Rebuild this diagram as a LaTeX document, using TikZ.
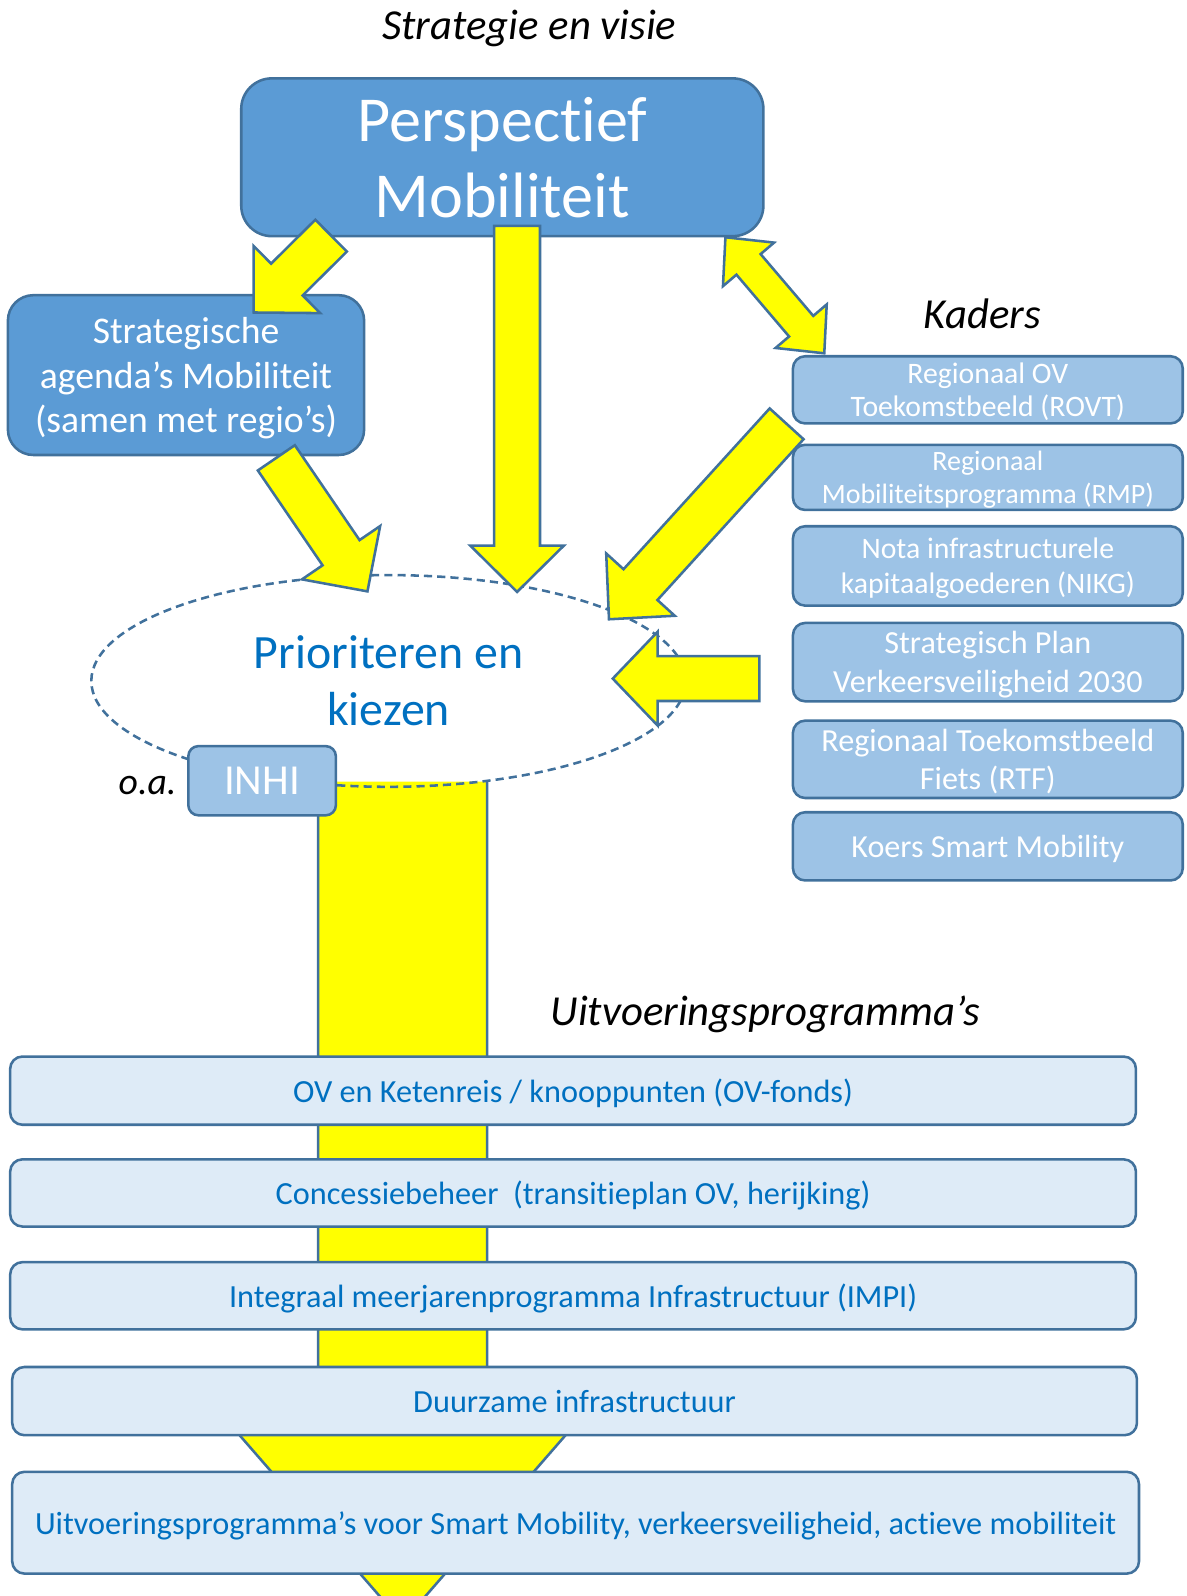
\documentclass[tikz,border=0pt]{standalone}
\usepackage{fontspec}
\setmainfont{Carlito}[Ligatures={NoCommon}]
\usetikzlibrary{calc,shapes.geometric}
\definecolor{darkfill}{HTML}{5B9BD5}
\definecolor{edgec}{HTML}{41719C}
\definecolor{kfill}{HTML}{9DC3E6}
\definecolor{pfill}{HTML}{DEEBF7}
\definecolor{ptext}{HTML}{0070C0}
\definecolor{ayellow}{HTML}{FFFF00}
\tikzset{
  dbox/.style={draw=edgec, fill=darkfill, line width=2.5pt, text=white, align=center, inner sep=0pt, text depth=0pt},
  kbox/.style={draw=edgec, fill=kfill, line width=2.5pt, text=white, align=center, inner sep=0pt, text depth=0pt, rounded corners=12pt, minimum width=383pt},
  pbox/.style={draw=edgec, fill=pfill, line width=2.5pt, text=ptext, align=center, inner sep=0pt, text depth=0pt, rounded corners=12pt, font=\fontsize{31.7}{38}\selectfont},
  arrowsty/.style={fill=ayellow, draw=edgec, line width=2.5pt, line join=miter},
  titletext/.style={font=\itshape\fontsize{42}{50}\selectfont, text=black, inner sep=0pt, text depth=0pt},
}
% single block arrow: #1 tail centre, #2 tip, #3 half shaft width, #4 half head width, #5 head length
\newcommand{\blkarrow}[5]{%
  \coordinate (ba-n) at ($#2!#5!#1$);
  \filldraw[arrowsty] ($#1!#3!90:#2$) -- ($(ba-n)!#3!90:#2$) -- ($(ba-n)!#4!90:#2$) -- #2
    -- ($(ba-n)!#4!-90:#2$) -- ($(ba-n)!#3!-90:#2$) -- ($#1!#3!-90:#2$) -- cycle;}
% double block arrow: #1 tip one, #2 tip two, #3 half shaft, #4 half head, #5 head length
\newcommand{\dblarrow}[5]{%
  \coordinate (da-a) at ($#1!#5!#2$);
  \coordinate (da-b) at ($#2!#5!#1$);
  \filldraw[arrowsty] #1 -- ($(da-a)!#4!90:#2$) -- ($(da-a)!#3!90:#2$) -- ($(da-b)!#3!-90:#1$)
    -- ($(da-b)!#4!-90:#1$) -- #2 -- ($(da-b)!#4!90:#1$) -- ($(da-b)!#3!90:#1$)
    -- ($(da-a)!#3!-90:#2$) -- ($(da-a)!#4!-90:#2$) -- cycle;}
\begin{document}
\begin{tikzpicture}[x=1pt,y=-1pt]
\useasboundingbox (0,0) rectangle (1166,1568);
\clip (0,0) rectangle (1166,1568);

% main downward arrow (behind everything)
\coordinate (bigtop) at (395.5,768);
\coordinate (bigneck) at (395.5,1409);
\coordinate (bigtip) at (395.5,1594);
\filldraw[arrowsty] ($(bigtop)+(-83,0)$) -- ($(bigneck)+(-83,0)$) -- ($(bigneck)+(-161,0)$) -- (bigtip)
  -- ($(bigneck)+(161,0)$) -- ($(bigneck)+(83,0)$) -- ($(bigtop)+(83,0)$);

% ellipse
\node[ellipse, draw=edgec, line width=2.5pt, dash pattern=on 8pt off 5pt, minimum width=584pt, minimum height=208pt,
  inner sep=0pt, text=ptext, align=center, font=\fontsize{47}{56}\selectfont] (prio) at (381.7,669) {Prioriteren en\\kiezen};

% headings
\node[titletext] (t1) at (520,24) {Strategie en visie};
\node[titletext] (t2) at (965,308) {Kaders};
\node[titletext] (t3) at (752,993) {Uitvoeringsprogramma’s};
\node[titletext, font=\itshape\fontsize{37}{43}\selectfont] (oa) at (145,772) {o.a.};

% top boxes
\node[dbox, rounded corners=30pt, minimum width=513pt, minimum height=155pt, font=\fontsize{63}{75}\selectfont]
  (persp) at (493.5,154.5) {Perspectief\\Mobiliteit};
\node[dbox, rounded corners=25pt, minimum width=350pt, minimum height=157pt, font=\fontsize{37}{44}\selectfont]
  (strat) at (182.75,368.5) {Strategische\\agenda’s Mobiliteit\\(samen met regio’s)};

% kaders
\node[kbox, minimum height=66pt, font=\fontsize{29.2}{33}\selectfont] (rovt) at (970.5,383) {Regionaal OV\\Toekomstbeeld (ROVT)};
\node[kbox, minimum height=64pt, font=\fontsize{27.5}{33}\selectfont] (rmp) at (970.5,469) {Regionaal\\Mobiliteitsprogramma (RMP)};
\node[kbox, minimum height=78pt, font=\fontsize{29.2}{34}\selectfont] (nikg) at (970.5,556) {Nota infrastructurele\\kapitaalgoederen (NIKG)};
\node[kbox, minimum height=77pt, font=\fontsize{31.6}{38}\selectfont] (spv) at (970.5,650.5) {Strategisch Plan\\Verkeersveiligheid 2030};
\node[kbox, minimum height=76pt, font=\fontsize{31.6}{38}\selectfont] (rtf) at (970.5,746) {Regionaal Toekomstbeeld\\Fiets (RTF)};
\node[kbox, minimum height=67pt, font=\fontsize{31.5}{38}\selectfont] (koers) at (970.5,831.5) {Koers Smart Mobility};

% programme boxes
\node[pbox, minimum width=1106pt, minimum height=67pt] (ov) at (563,1071.5) {OV en Ketenreis / knooppunten (OV-fonds)};
\node[pbox, minimum width=1106pt, minimum height=66pt] (conc) at (563,1172) {Concessiebeheer\ \ (transitieplan OV, herijking)};
\node[pbox, minimum width=1106pt, minimum height=66pt] (impi) at (563,1273) {Integraal meerjarenprogramma Infrastructuur (IMPI)};
\node[pbox, minimum width=1105pt, minimum height=67pt] (duur) at (564.5,1376.5) {Duurzame infrastructuur};
\node[pbox, minimum width=1107pt, minimum height=100pt] (uitv) at (565.5,1496) {Uitvoeringsprogramma’s voor Smart Mobility, verkeersveiligheid, actieve mobiliteit};

% INHI
\node[kbox, minimum width=145pt, minimum height=68pt, rounded corners=10pt, font=\fontsize{42}{49}\selectfont] (inhi) at (257.5,767) {INHI};

% arrow end points
\coordinate (a1s) at (325.3,231.5);  \coordinate (a1e) at (249.2,307);
\coordinate (a2s) at (508,222);      \coordinate (a2e) at (508,581.5);
\coordinate (a3s) at (271.5,449.8);  \coordinate (a3e) at (361,581);
\coordinate (a4s) at (772.8,416.4);  \coordinate (a4e) at (598.3,608.4);
\coordinate (a5s) at (746,666.7);    \coordinate (a5e) at (602,666.7);
\coordinate (a6s) at (712.7,233.1);  \coordinate (a6e) at (809.8,347.1);

\blkarrow{(a1s)}{(a1e)}{22pt}{46.5pt}{46pt}
\blkarrow{(a2s)}{(a2e)}{22.5pt}{46pt}{45.5pt}
\blkarrow{(a3s)}{(a3e)}{22pt}{46.5pt}{46pt}
\blkarrow{(a4s)}{(a4e)}{22.5pt}{45.5pt}{46pt}
\blkarrow{(a5s)}{(a5e)}{22pt}{46pt}{44pt}
\dblarrow{(a6s)}{(a6e)}{15.6pt}{33pt}{35pt}
\end{tikzpicture}
\end{document}
